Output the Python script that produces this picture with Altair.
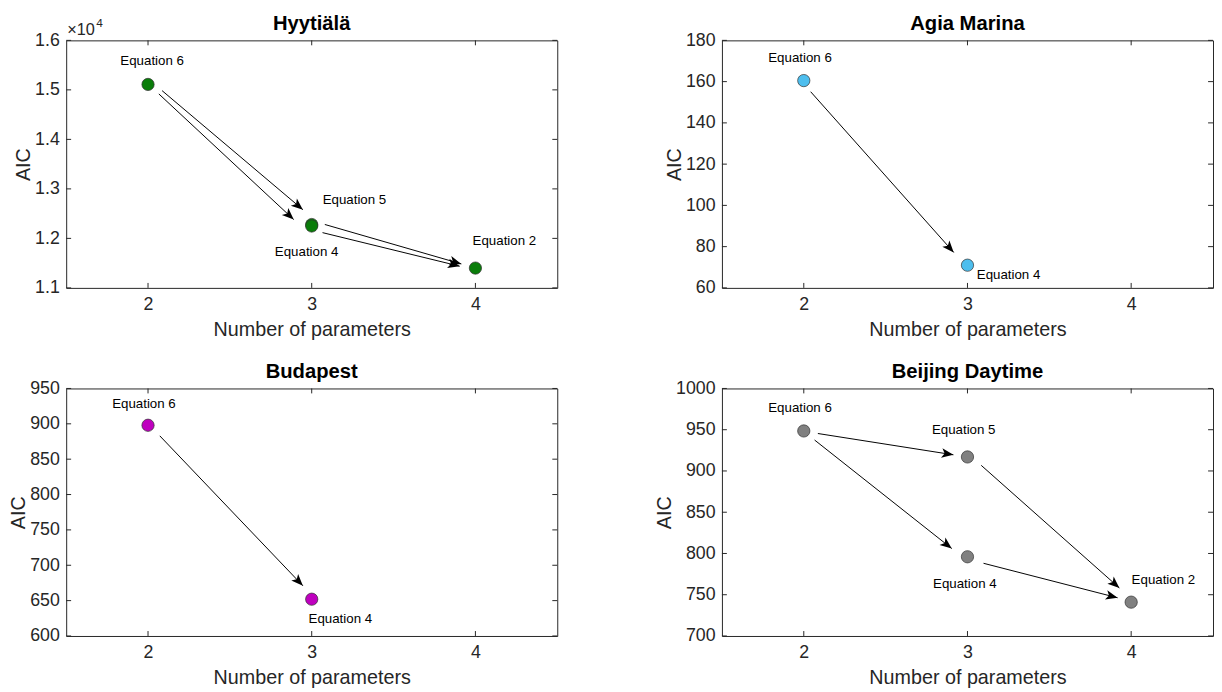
import math
import altair as alt
import pandas as pd

FONT = "Liberation Sans"
X_DOMAIN = [1.5, 4.5]
X_TICKS = [2, 3, 4]
W, H = 498, 251

# ---------------- data ----------------
# Hyytiälä
hyy_n = [2, 3, 3, 4]
hyy_aic = [15110, 12280, 12250, 11400]
hyy_lab = ["Equation 6", "Equation 5", "Equation 4", "Equation 2"]
hyy_lab_x = [2.025, 3.261, 2.969, 4.177]
hyy_lab_y = [15582, 12767, 11731, 11950]
hyy_arr_x1 = [2.086, 2.066, 3.080, 3.066]
hyy_arr_y1 = [14984, 14918, 12281, 12116]
hyy_arr_x2 = [2.946, 2.890, 3.914, 3.904]
hyy_arr_y2 = [12580, 12381, 11484, 11438]
hyy_yticks = [11000, 12000, 13000, 14000, 15000, 16000]

# Agia Marina
agi_n = [2, 3]
agi_aic = [160.5, 71]
agi_lab = ["Equation 6", "Equation 4"]
agi_lab_x = [1.977, 3.251]
agi_lab_y = [171.5, 66.2]
agi_arr_x1 = [2.042]
agi_arr_y1 = [155.1]
agi_arr_x2 = [2.916]
agi_arr_y2 = [77.2]
agi_yticks = [60, 80, 100, 120, 140, 160, 180]

# Budapest
bud_n = [2, 3]
bud_aic = [898, 652]
bud_lab = ["Equation 6", "Equation 4"]
bud_lab_x = [1.975, 3.175]
bud_lab_y = [928, 623.7]
bud_arr_x1 = [2.072]
bud_arr_y1 = [883]
bud_arr_x2 = [2.946]
bud_arr_y2 = [671]
bud_yticks = [600, 650, 700, 750, 800, 850, 900, 950]

# Beijing Daytime
bei_n = [2, 3, 3, 4]
bei_aic = [948.5, 917, 796, 741]
bei_lab = ["Equation 6", "Equation 5", "Equation 4", "Equation 2"]
bei_lab_x = [1.977, 2.977, 2.984, 4.197]
bei_lab_y = [976, 949.4, 763, 767.3]
bei_arr_x1 = [2.086, 2.066, 3.084, 3.098]
bei_arr_y1 = [945.4, 937.5, 906.8, 788.1]
bei_arr_x2 = [2.914, 2.904, 3.928, 3.917]
bei_arr_y2 = [919.6, 806.0, 758.2, 746.3]
bei_yticks = [700, 750, 800, 850, 900, 950, 1000]

ARROW_PATH = "M0,0 L-2,-0.8 L-1.5,0 L-2,0.8 Z"


def panel(title, n, aic, color, labs, lab_x, lab_y, ax1, ay1, ax2, ay2,
          yticks, sci=False):
    ydom = [yticks[0], yticks[-1]]
    xs = alt.Scale(domain=X_DOMAIN, nice=False, zero=False)
    ys = alt.Scale(domain=ydom, nice=False, zero=False)

    sx = W / (X_DOMAIN[1] - X_DOMAIN[0])
    sy = H / (ydom[1] - ydom[0])
    angles = [
        math.degrees(math.atan2(-(b2 - b1) * sy, (a2 - a1) * sx)) % 360
        for a1, b1, a2, b2 in zip(ax1, ay1, ax2, ay2)
    ]

    pts = pd.DataFrame({"n": n, "aic": aic})
    labdf = pd.DataFrame({"x": lab_x, "y": lab_y, "t": labs})
    arr = pd.DataFrame({"x1": ax1, "y1": ay1, "x2": ax2, "y2": ay2, "ang": angles})
    yt = pd.DataFrame({"v": yticks})
    xt = pd.DataFrame({"v": X_TICKS})

    if sci:
        yaxis = alt.Axis(values=yticks, title="AIC", labelPadding=7, titlePadding=1,
                         labelExpr="format(datum.value / 10000, '.1f')")
    else:
        yaxis = alt.Axis(values=yticks, title="AIC", labelPadding=7, titlePadding=1,
                         format="d")
    xaxis = alt.Axis(values=X_TICKS, title="Number of parameters",
                     labelPadding=8, titlePadding=6, format="d")

    def X(f):
        return alt.X(f, scale=xs, axis=xaxis)

    def Y(f):
        return alt.Y(f, scale=ys, axis=yaxis)

    base_pts = alt.Chart(pts).mark_circle(
        size=155, opacity=1, stroke="#303030", strokeWidth=0.7
    ).encode(x=X("n:Q"), y=Y("aic:Q"), color=alt.value(color))

    ytick_l = alt.Chart(yt).mark_rule(color="#262626").encode(
        y=Y("v:Q"), x=alt.value(0), x2=alt.value(5))
    ytick_r = alt.Chart(yt).mark_rule(color="#262626").encode(
        y=Y("v:Q"), x=alt.value(W - 5), x2=alt.value(W))
    xtick_b = alt.Chart(xt).mark_rule(color="#262626").encode(
        x=X("v:Q"), y=alt.value(H - 5), y2=alt.value(H))
    xtick_t = alt.Chart(xt).mark_rule(color="#262626").encode(
        x=X("v:Q"), y=alt.value(0), y2=alt.value(5))

    lines = alt.Chart(arr).mark_rule(color="black", strokeWidth=1).encode(
        x=X("x1:Q"), y=Y("y1:Q"), x2="x2:Q", y2="y2:Q")
    heads = alt.Chart(arr).mark_point(
        shape=ARROW_PATH, filled=True, size=144, color="black", opacity=1
    ).encode(x=X("x2:Q"), y=Y("y2:Q"), angle=alt.Angle("ang:Q", scale=None))
    texts = alt.Chart(labdf).mark_text(
        font=FONT, fontSize=13.5, color="black", align="center", baseline="middle"
    ).encode(x=X("x:Q"), y=Y("y:Q"), text="t:N")

    ttl = alt.Chart(pd.DataFrame({"t": [title]})).mark_text(
        font=FONT, fontSize=20.5, fontWeight="bold", color="black",
        align="center", baseline="top"
    ).encode(text="t:N", x=alt.value(W / 2), y=alt.value(-27))

    layers = [base_pts, ytick_l, ytick_r, xtick_b, xtick_t, lines, heads, texts, ttl]
    if sci:
        mult = alt.Chart(pd.DataFrame({"t": ["×10"]})).mark_text(
            font=FONT, fontSize=16.5, color="#262626", align="left", baseline="top"
        ).encode(text="t:N", x=alt.value(1), y=alt.value(-18))
        expo = alt.Chart(pd.DataFrame({"t": ["4"]})).mark_text(
            font=FONT, fontSize=12, color="#262626", align="left", baseline="top"
        ).encode(text="t:N", x=alt.value(30.5), y=alt.value(-22.5))
        layers += [mult, expo]
    return alt.layer(*layers).properties(width=W, height=H)


p1 = panel("Hyytiälä", hyy_n, hyy_aic, "#0A7D0A", hyy_lab, hyy_lab_x, hyy_lab_y,
           hyy_arr_x1, hyy_arr_y1, hyy_arr_x2, hyy_arr_y2, hyy_yticks, sci=True)
p2 = panel("Agia Marina", agi_n, agi_aic, "#4DBEEE", agi_lab, agi_lab_x, agi_lab_y,
           agi_arr_x1, agi_arr_y1, agi_arr_x2, agi_arr_y2, agi_yticks)
p3 = panel("Budapest", bud_n, bud_aic, "#BF00BF", bud_lab, bud_lab_x, bud_lab_y,
           bud_arr_x1, bud_arr_y1, bud_arr_x2, bud_arr_y2, bud_yticks)
p4 = panel("Beijing Daytime", bei_n, bei_aic, "#808080", bei_lab, bei_lab_x, bei_lab_y,
           bei_arr_x1, bei_arr_y1, bei_arr_x2, bei_arr_y2, bei_yticks)

chart = alt.concat(p1, p2, p3, p4, columns=2, spacing={"row": 21, "column": 97}).properties(
    padding={"left": 0, "top": 0, "right": 0, "bottom": 0},
    background="white",
).configure_view(
    stroke="#262626", strokeWidth=1,
).configure_axis(
    domain=False, ticks=False, grid=False,
    labelFont=FONT, labelFontSize=18, labelColor="#262626",
    titleFont=FONT, titleFontSize=20, titleColor="#262626", titleFontWeight="normal",
)

chart.save("out.html", embed_options={"renderer": "svg", "actions": False})
